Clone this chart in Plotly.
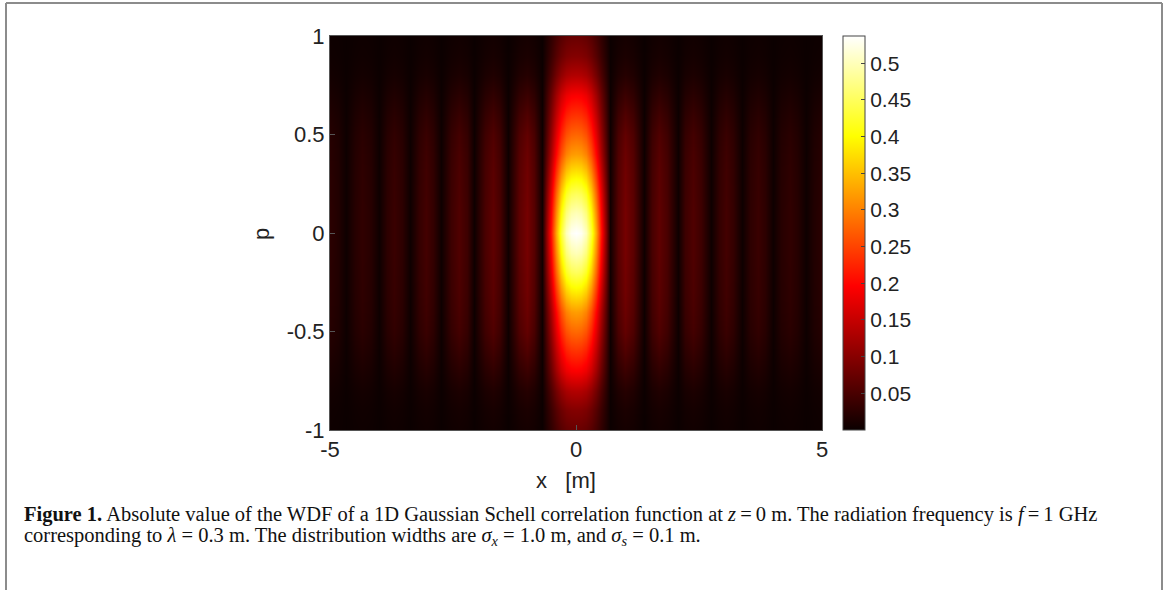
import numpy as np
import plotly.graph_objects as go

# x nodes (m, positive half; mirrored) and WDF magnitude along x at p = 0
x_nodes = [0.0, 0.1, 0.2, 0.3, 0.4, 0.5, 0.6, 0.7, 0.85, 1.0, 1.15, 1.39, 1.54, 1.69, 1.85,
           2.07, 2.22, 2.37, 2.55, 2.74, 2.9, 3.05, 3.2, 3.38, 3.54, 3.7, 3.85, 4.0,
           4.17, 4.35, 4.5, 4.68, 4.83, 5.0]
x_profile = [0.537, 0.53, 0.50, 0.43, 0.33, 0.21, 0.10, 0.005, 0.06, 0.085, 0.065, 0.003,
             0.048, 0.067, 0.05, 0.003, 0.04, 0.055, 0.04, 0.003, 0.032, 0.045, 0.033,
             0.003, 0.027, 0.037, 0.027, 0.003, 0.022, 0.03, 0.022, 0.003, 0.018, 0.025]

# p nodes (positive half; mirrored) with relative envelopes
p_nodes = [0.0, 0.1, 0.2, 0.3, 0.4, 0.5, 0.6, 0.7, 0.8, 0.9, 1.0]
center_env = [1.0, 0.93, 0.84, 0.72, 0.60, 0.52, 0.44, 0.36, 0.25, 0.18, 0.14]
side_env = [1.0, 1.0, 0.97, 0.95, 0.90, 0.82, 0.65, 0.45, 0.25, 0.15, 0.10]

core_halfwidth = 0.7
colorbar_ticks = [0.05, 0.1, 0.15, 0.2, 0.25, 0.3, 0.35, 0.4, 0.45, 0.5]
z_max = 0.537

xs = np.array(x_nodes)
xp = np.array(x_profile)
x_full = np.concatenate([-xs[:0:-1], xs])
prof_full = np.concatenate([xp[:0:-1], xp])
ps = np.array(p_nodes)
p_full = np.concatenate([-ps[:0:-1], ps])
ce = np.array(center_env)
se = np.array(side_env)
ce_full = np.concatenate([ce[:0:-1], ce])
se_full = np.concatenate([se[:0:-1], se])

core = np.abs(x_full) <= core_halfwidth
z = np.where(core[None, :], prof_full[None, :] * ce_full[:, None],
             prof_full[None, :] * se_full[:, None])

W, H = 1168, 590
def px(v):
    return v / W
def py(v):
    return 1 - v / H

hot = [[0.0, 'rgb(11,0,0)'], [0.365, 'rgb(255,0,0)'], [0.746, 'rgb(255,255,0)'],
       [1.0, 'rgb(255,255,255)']]

font = "Liberation Sans, Arial, sans-serif"
serif = "Liberation Serif, Times New Roman, serif"

fig = go.Figure(go.Heatmap(
    x=x_full, y=p_full, z=z, zsmooth='best', colorscale=hot, zmin=0, zmax=z_max,
    colorbar=dict(
        x=px(843), xanchor='left', y=py(233), yanchor='middle',
        len=394, lenmode='pixels', thickness=22, thicknessmode='pixels',
        outlinecolor='#444', outlinewidth=1,
        tickvals=colorbar_ticks, ticktext=[f"{t:g}" for t in colorbar_ticks],
        ticks='inside', ticklen=4, tickcolor='#444',
        tickfont=dict(family=font, size=21, color='#222'),
        xpad=0, ypad=0,
    ),
))

axis_common = dict(showline=True, linecolor='#555', linewidth=1, mirror=True,
                   ticks='inside', ticklen=5, tickcolor='#555', showgrid=False,
                   zeroline=False, automargin=False,
                   tickfont=dict(family=font, size=22, color='#222'))

fig.update_layout(
    template='none',
    width=W, height=H,
    margin=dict(l=0, r=0, t=0, b=0, pad=0, autoexpand=False),
    paper_bgcolor='white', plot_bgcolor='white',
    xaxis=dict(domain=[px(330), px(822)], range=[-5, 5], tickvals=[-5, 0, 5],
               ticktext=['-5', '0', '5'], **axis_common),
    yaxis=dict(domain=[py(430), py(36)], range=[-1, 1],
               tickvals=[-1, -0.5, 0, 0.5, 1], ticktext=['-1', '-0.5', '0', '0.5', '1'],
               **axis_common),
    showlegend=False,
)

# axis labels
fig.add_annotation(x=px(566), y=py(480), xref='paper', yref='paper', showarrow=False,
                   text='x\u00a0\u00a0\u00a0[m]', font=dict(family=font, size=22, color='#222'),
                   xanchor='center', yanchor='middle')
fig.add_annotation(x=px(262), y=py(234), xref='paper', yref='paper', showarrow=False,
                   text='p', textangle=-90, font=dict(family=font, size=22, color='#222'),
                   xanchor='center', yanchor='middle')

# caption
line1 = ("<b>Figure 1.</b> Absolute value of the WDF of a 1D Gaussian Schell correlation "
         "function at <i>z</i>\u2009=\u20090 m. The radiation frequency is <i>f</i>\u2009=\u20091 GHz")
line2 = ("corresponding to <i>λ</i> = 0.3 m. The distribution widths are "
         "<i>σ</i><sub><i>x</i></sub> = 1.0 m, and <i>σ</i><sub><i>s</i></sub> = 0.1 m.")
fig.add_annotation(x=px(22), y=py(514), xref='paper', yref='paper', showarrow=False,
                   text=line1, font=dict(family=serif, size=20.5, color='#111'),
                   xanchor='left', yanchor='middle')
fig.add_annotation(x=px(22), y=py(536), xref='paper', yref='paper', showarrow=False,
                   text=line2, font=dict(family=serif, size=20.5, color='#111'),
                   xanchor='left', yanchor='middle')

# frame
frame = dict(type='line', xref='paper', yref='paper', line=dict(color='#8c8c8c', width=2))
fig.add_shape(x0=px(6), x1=px(1162), y0=py(3), y1=py(3), **frame)
fig.add_shape(x0=px(6), x1=px(6), y0=py(3), y1=py(590), **frame)
fig.add_shape(x0=px(1162), x1=px(1162), y0=py(3), y1=py(590), **frame)

fig.write_html("out.html", config={'displayModeBar': False},
               post_script="document.body.style.margin='0px';document.body.style.padding='0px';")
